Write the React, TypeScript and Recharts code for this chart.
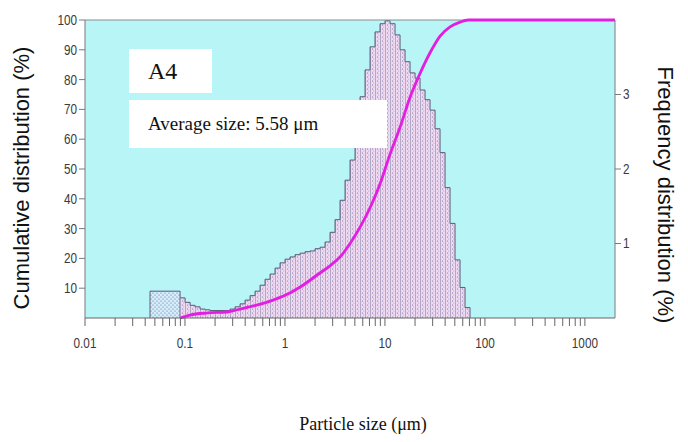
import React from "react";
import {
  ComposedChart,
  Area,
  Line,
  XAxis,
  YAxis,
  CartesianGrid,
  ReferenceLine,
} from "recharts";

// lower edges of the size classes (µm) and frequency of each class (%)
const binEdges = [
  0.0893, 0.1002, 0.1125, 0.1262, 0.1416, 0.1589, 0.1783, 0.2, 0.2244, 0.2518,
  0.2825, 0.317, 0.3557, 0.3991, 0.4477, 0.5024, 0.5637, 0.6325, 0.7096, 0.7962,
  0.8934, 1.0024, 1.1247, 1.2619, 1.4159, 1.5887, 1.7825, 2.0, 2.244, 2.5179,
  2.8251, 3.1698, 3.5566, 3.9905, 4.4774, 5.0238, 5.6368, 6.3246, 7.0963, 7.9621,
  8.9337, 10.0237, 11.2468, 12.6191, 14.1589, 15.8866, 17.825, 20.0, 22.4404, 25.1785,
  28.2508, 31.6979, 35.5656, 39.9052, 44.7744, 50.2377, 56.3677, 63.2456, 70.9627,
];
const frequency = [
  0.27, 0.21, 0.17, 0.15, 0.12, 0.11, 0.1, 0.1, 0.1, 0.1,
  0.12, 0.15, 0.19, 0.24, 0.3, 0.36, 0.44, 0.52, 0.59, 0.67,
  0.74, 0.79, 0.82, 0.85, 0.87, 0.89, 0.9, 0.93, 0.95, 1.02,
  1.15, 1.32, 1.58, 1.85, 2.12, 2.52, 2.97, 3.33, 3.64, 3.84,
  3.95, 3.99, 3.95, 3.8, 3.6, 3.44, 3.29, 3.22, 3.06, 2.93,
  2.79, 2.54, 2.22, 1.75, 1.27, 0.78, 0.41, 0.14, 0,
];

// fine fraction reported as one wide class
const fineEdges = [0.0447, 0.0893];
const fineFrequency = 0.36;

// cumulative undersize (%)
const cumulativeSizes = [
  0.0893, 0.112, 0.17, 0.27, 0.356, 0.53, 0.76, 1.12, 1.42, 2.24, 2.82, 3.56,
  4.48, 5.64, 7.1, 8.93, 11.25, 14.16, 17.8, 22.4, 28.25, 35.6, 44.8, 56.4, 68, 2000,
];
const cumulativeValues = [
  0, 1.0, 1.7, 2.1, 3.0, 4.4, 6.0, 8.4, 10.4, 15.1, 17.5, 20.5,
  25, 30.5, 37, 45, 55, 64, 74, 82, 89, 94.6, 97.7, 99.3, 100, 100,
];

const majorTicks = [0.01, 0.1, 1, 10, 100, 1000];
const minorTicks = [
  0.02, 0.03, 0.04, 0.05, 0.06, 0.07, 0.08, 0.09,
  0.2, 0.3, 0.4, 0.5, 0.6, 0.7, 0.8, 0.9,
  2, 3, 4, 5, 6, 7, 8, 9,
  20, 30, 40, 50, 60, 70, 80, 90,
  200, 300, 400, 500, 600, 700, 800, 900,
];
const cumulativeTicks = [10, 20, 30, 40, 50, 60, 70, 80, 90, 100];
const frequencyTicks = [1, 2, 3];

const histData = binEdges.map((size, i) => ({ size, freq: frequency[i] }));
const fineData = [
  { size: fineEdges[0], freq: 0 },
  { size: fineEdges[0], freq: fineFrequency },
  { size: fineEdges[1], freq: fineFrequency },
  { size: fineEdges[1], freq: 0 },
];
const cumData = cumulativeSizes.map((size, i) => ({ size, cum: cumulativeValues[i] }));
const xTicks = [...majorTicks, ...minorTicks].sort((a, b) => a - b);

const sans = "'Liberation Sans', Arial, sans-serif";
const serif = "'Liberation Serif', 'Times New Roman', serif";

// squeezed sans labels, like the instrument software's narrow font
function NarrowTick({ x, y, payload, anchor, dy, show = true }: any) {
  if (!show) return null;
  return (
    <g transform={`translate(${x},${y})`}>
      <text
        x={0}
        y={0}
        dy={dy}
        textAnchor={anchor}
        transform="scale(0.84,1)"
        fill="#3a3a3a"
        fontSize={14}
        fontFamily={sans}
      >
        {payload.value}
      </text>
    </g>
  );
}

export default function App() {
  return (
    <div style={{ position: "relative", width: 672, height: 426 }}>
      <ComposedChart
        width={672}
        height={426}
        data={histData}
        margin={{ top: 12, right: 35, bottom: 86, left: 32 }}
      >
        <defs>
          <pattern id="histFill" patternUnits="userSpaceOnUse" x={172.07} y={0} width={5} height={4}>
            <rect width={5} height={4} fill="#f2dcf2" />
            <line x1={0.4} y1={0} x2={0.4} y2={4} stroke="#8a8aaa" strokeWidth={0.75} />
            <circle cx={2.6} cy={1} r={0.5} fill="#4848a0" />
            <circle cx={3.8} cy={3} r={0.45} fill="#6a6ab8" />
          </pattern>
          <pattern id="fineFill" patternUnits="userSpaceOnUse" x={0} y={0} width={4} height={4}>
            <rect width={4} height={4} fill="#d6eef8" />
            <circle cx={1} cy={1} r={0.55} fill="#4a58aa" />
            <circle cx={3} cy={3} r={0.55} fill="#4a58aa" />
          </pattern>
        </defs>
        <CartesianGrid fill="#b7f5f7" horizontal={false} vertical={false} yAxisId="cum" />
        <XAxis
          dataKey="size"
          type="number"
          scale="log"
          domain={[0.01, 2000]}
          allowDataOverflow
          ticks={xTicks}
          interval={0}
          tickSize={8}
          tickMargin={12}
          stroke="#666"
          tick={(p: any) => (
            <NarrowTick {...p} anchor="middle" dy="0.71em" show={majorTicks.includes(p.payload.value)} />
          )}
          height={30}
        />
        <YAxis
          yAxisId="cum"
          domain={[0, 100]}
          ticks={cumulativeTicks}
          interval={0}
          tickSize={6}
          tickMargin={2}
          width={45}
          stroke="#7a7a7a"
          tick={(p: any) => <NarrowTick {...p} anchor="end" dy="0.355em" />}
        />
        <YAxis
          yAxisId="freq"
          orientation="right"
          domain={[0, 4]}
          ticks={frequencyTicks}
          interval={0}
          tickSize={6}
          tickMargin={2}
          width={30}
          stroke="#7a7a7a"
          tick={(p: any) => <NarrowTick {...p} anchor="start" dy="0.355em" />}
        />
        <ReferenceLine yAxisId="cum" y={100} stroke="#8c8c8c" />
        <Area
          data={fineData}
          dataKey="freq"
          yAxisId="freq"
          type="stepAfter"
          fill="url(#fineFill)"
          fillOpacity={1}
          stroke="#5b5b78"
          strokeWidth={1}
          dot={false}
          activeDot={false}
          isAnimationActive={false}
        />
        <Area
          dataKey="freq"
          yAxisId="freq"
          type="stepAfter"
          fill="url(#histFill)"
          fillOpacity={1}
          stroke="#5b5b78"
          strokeWidth={1}
          dot={false}
          activeDot={false}
          isAnimationActive={false}
        />
        <Line
          data={cumData}
          dataKey="cum"
          yAxisId="cum"
          type="monotone"
          stroke="#e31ee3"
          strokeWidth={2.8}
          dot={false}
          activeDot={false}
          isAnimationActive={false}
        />
      </ComposedChart>

      <div
        style={{
          position: "absolute",
          left: 121,
          top: 41,
          width: 83,
          height: 44,
          background: "#fff",
          fontFamily: serif,
          fontSize: 24,
          color: "#111",
          display: "flex",
          alignItems: "center",
          paddingLeft: 19,
          boxSizing: "border-box",
        }}
      >
        A4
      </div>
      <div
        style={{
          position: "absolute",
          left: 121,
          top: 92,
          width: 258,
          height: 48,
          background: "#fff",
          fontFamily: serif,
          fontSize: 19,
          color: "#111",
          display: "flex",
          alignItems: "center",
          paddingLeft: 19,
          boxSizing: "border-box",
          whiteSpace: "nowrap",
        }}
      >
        Average size: 5.58 μm
      </div>

      <div
        style={{
          position: "absolute",
          left: 14,
          top: 170,
          transform: "translate(-50%, -50%) rotate(-90deg)",
          fontFamily: sans,
          fontSize: 22,
          lineHeight: 1,
          color: "#111",
          whiteSpace: "nowrap",
        }}
      >
        Cumulative distribution (%)
      </div>
      <div
        style={{
          position: "absolute",
          left: 657,
          top: 187,
          transform: "translate(-50%, -50%) rotate(90deg)",
          fontFamily: sans,
          fontSize: 22,
          lineHeight: 1,
          color: "#111",
          whiteSpace: "nowrap",
        }}
      >
        Frequency distribution (%)
      </div>
      <div
        style={{
          position: "absolute",
          left: 355,
          top: 416,
          transform: "translate(-50%, -50%)",
          fontFamily: serif,
          fontSize: 18,
          lineHeight: 1,
          color: "#111",
          whiteSpace: "nowrap",
        }}
      >
        Particle size (μm)
      </div>
    </div>
  );
}
